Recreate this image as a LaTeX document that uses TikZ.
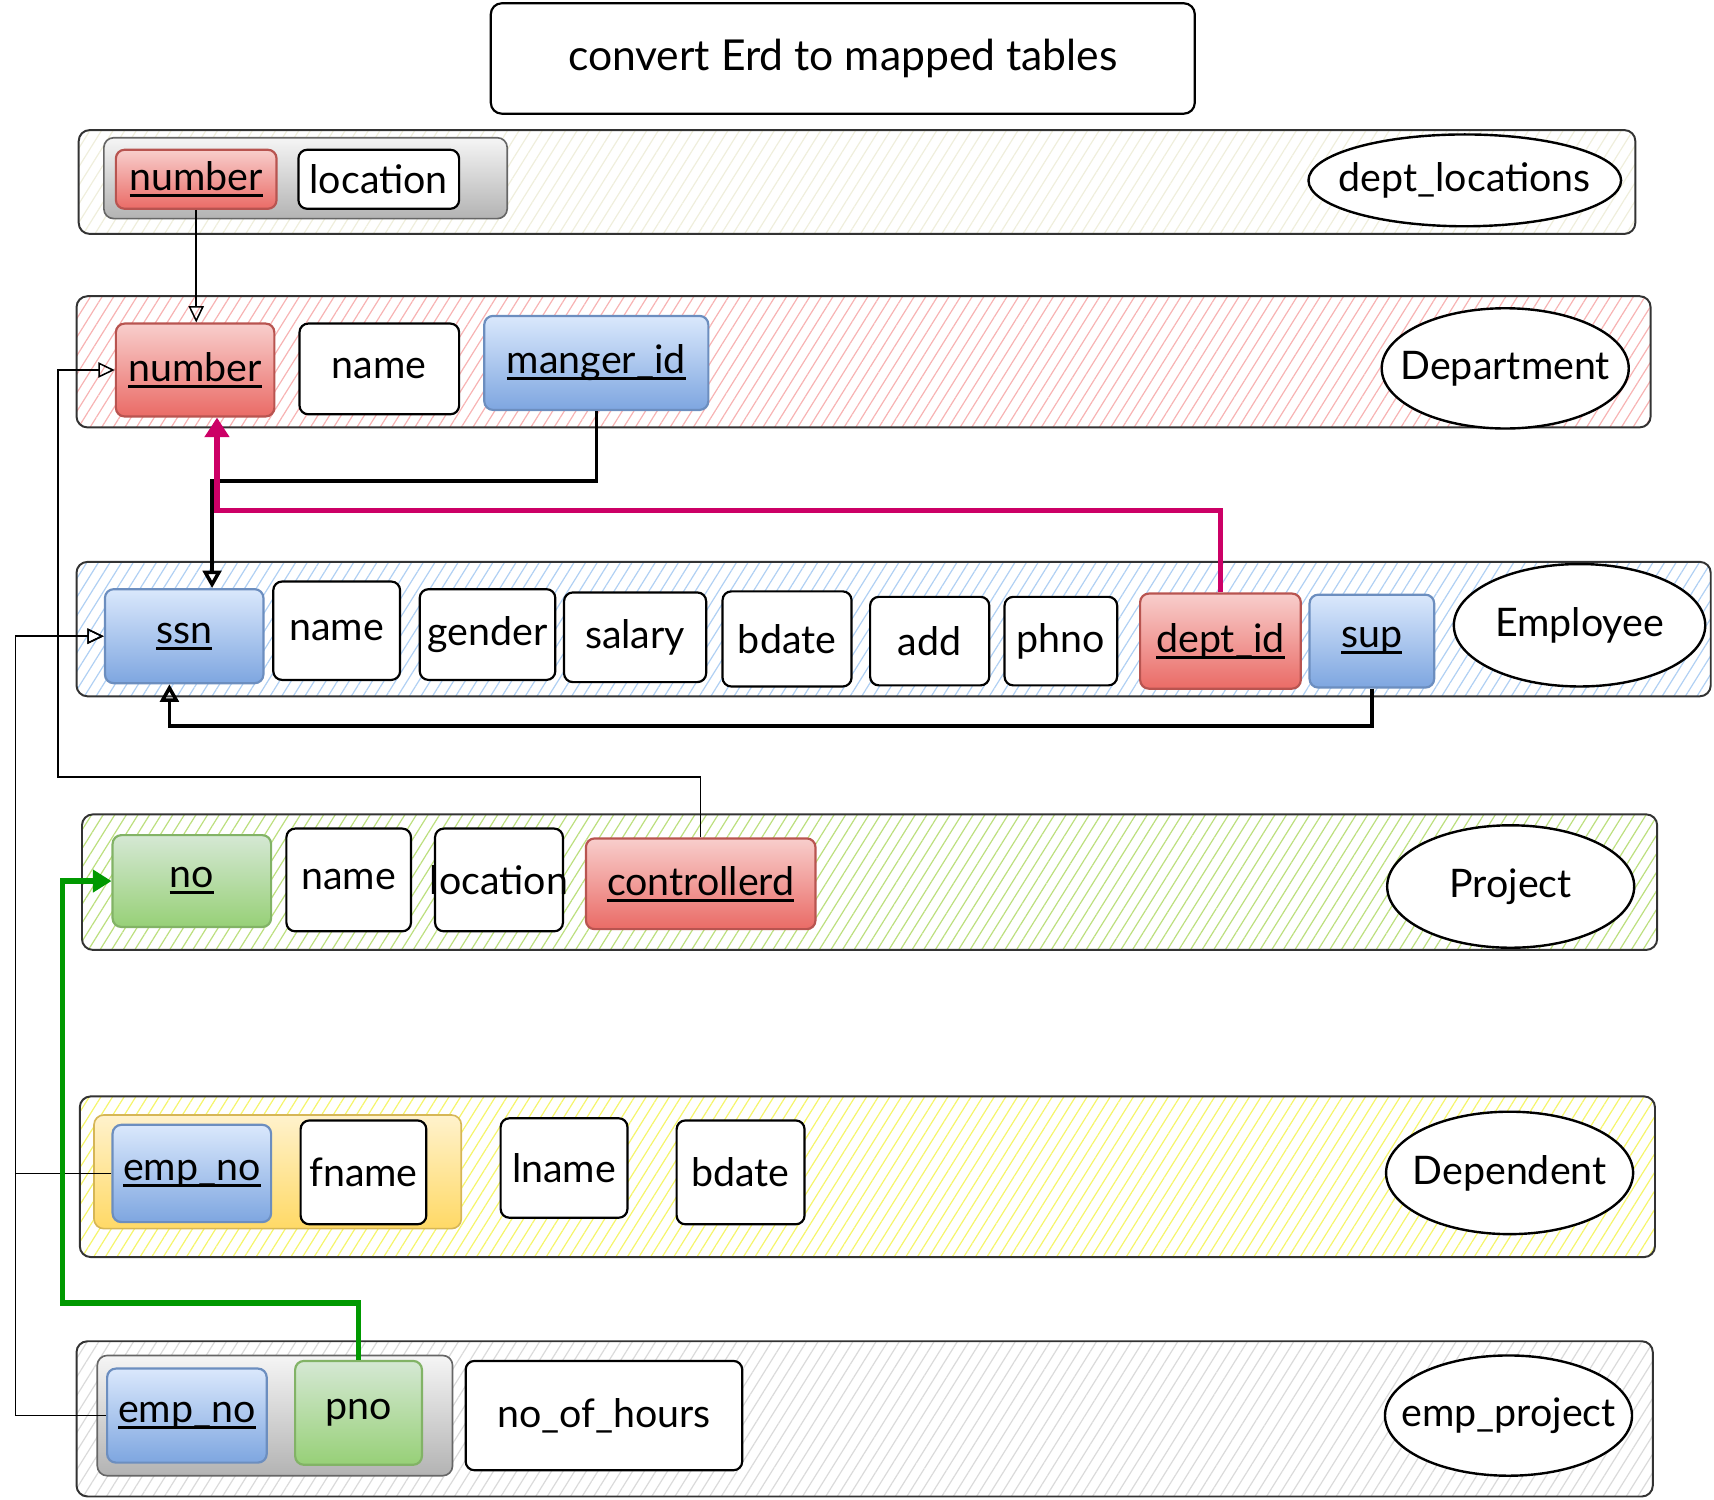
\documentclass[tikz,border=0pt]{standalone}
\usepackage{fontspec}
\setmainfont{Lato}
\usetikzlibrary{arrows.meta,shapes.geometric,patterns.meta}

% key attributes are underlined with a heavy rule just below the baseline
\newcommand{\keyline}[1]{\setbox0\hbox{#1}\leavevmode\rlap{\rule[-6pt]{\wd0}{2.8pt}}\box0}
% entity names do not widen their ellipse
\newcommand{\entname}[1]{\makebox[0pt]{#1}}

\definecolor{ink}{HTML}{333333}
\definecolor{redline}{HTML}{B85450}
\definecolor{redtop}{HTML}{F8CECC}
\definecolor{redbot}{HTML}{EA6B66}
\definecolor{blueline}{HTML}{6C8EBF}
\definecolor{bluetop}{HTML}{DAE8FC}
\definecolor{bluebot}{HTML}{7EA6E0}
\definecolor{greenline}{HTML}{82B366}
\definecolor{greentop}{HTML}{D5E8D4}
\definecolor{greenbot}{HTML}{97D077}
\definecolor{yelline}{HTML}{D6B656}
\definecolor{yeltop}{HTML}{FFF2CC}
\definecolor{yelbot}{HTML}{FFD966}
\definecolor{grayline}{HTML}{666666}
\definecolor{graytop}{HTML}{F5F5F5}
\definecolor{graybot}{HTML}{B3B3B3}
\definecolor{hatchbeige}{HTML}{EFEEDC}
\definecolor{hatchpink}{HTML}{F7B3B3}
\definecolor{hatchblue}{HTML}{B0D0F3}
\definecolor{hatchgreen}{HTML}{BCDF7E}
\definecolor{hatchyellow}{HTML}{F5F56A}
\definecolor{hatchgray}{HTML}{DADADA}
\definecolor{fkpink}{HTML}{CC0066}
\definecolor{fkgreen}{HTML}{009900}

\tikzset{
  labelfont/.style={font=\fontsize{36}{42}\selectfont},
  tablerow/.style={draw=ink, line width=1.8pt, rounded corners=10pt, inner sep=0pt,
    pattern={Lines[angle=58,distance=9pt,line width=1.1pt]}, pattern color=#1},
  keygroup/.style={draw=grayline, line width=1.5pt, rounded corners=9pt, inner sep=0pt,
    top color=graytop, bottom color=graybot},
  yelgroup/.style={draw=yelline, line width=1.5pt, rounded corners=9pt, inner sep=0pt,
    top color=yeltop, bottom color=yelbot},
  attr/.style={draw=black, line width=2pt, rounded corners=8pt, inner sep=0pt,
    fill=white, labelfont},
  redkey/.style={attr, draw=redline, top color=redtop, bottom color=redbot},
  bluekey/.style={attr, draw=blueline, top color=bluetop, bottom color=bluebot},
  greenkey/.style={attr, draw=greenline, top color=greentop, bottom color=greenbot},
  entity/.style={ellipse, draw=black, line width=2.2pt, fill=white, inner sep=0pt, labelfont},
  titlebox/.style={draw=black, line width=2pt, rounded corners=10pt, fill=white,
    inner sep=0pt, font=\fontsize{39}{46}\selectfont},
  thinlink/.style={draw=black, line width=1.4pt,
    -{Triangle[open,length=15pt,width=14pt]}},
  thicklink/.style={draw=black, line width=3.2pt,
    -{Triangle[open,length=16pt,width=17pt]}},
  pinklink/.style={draw=fkpink, line width=5pt,
    -{Triangle[length=18pt,width=22pt]}},
  greenlink/.style={draw=fkgreen, line width=5pt,
    -{Triangle[length=17pt,width=20pt]}},
}

\begin{document}
\begin{tikzpicture}[x=1pt,y=-1pt]
\useasboundingbox (0,0) rectangle (1568,1372);

% heading
\node[titlebox, minimum width=644, minimum height=101] (title) at (771,53.5)
  {convert Erd to mapped tables};

% ---- dept_locations ----
\node[tablerow=hatchbeige, minimum width=1424, minimum height=95] (rowA) at (784,166.5) {};
\node[keygroup, minimum width=369, minimum height=74] (grpA) at (279.5,163) {};
\node[redkey, minimum width=147, minimum height=54] (numberA) at (179.5,164) {\keyline{number}};
\node[attr, minimum width=147, minimum height=54] (locationA) at (346.5,164) {location};
\node[entity, minimum width=286, minimum height=84] (entA) at (1340,165) {\entname{dept\_locations}};

% ---- Department ----
\node[tablerow=hatchpink, minimum width=1440, minimum height=120] (rowB) at (790,331) {};
\node[redkey, minimum width=145, minimum height=85] (numberB) at (178.5,338.5) {\keyline{number}};
\node[attr, minimum width=146, minimum height=83] (nameB) at (347,337.5) {name};
\node[bluekey, minimum width=205, minimum height=86] (manger) at (545.5,332) {\keyline{manger\_id}};
\node[entity, minimum width=226, minimum height=110] (entB) at (1377,337) {\entname{Department}};

% ---- Employee ----
\node[tablerow=hatchblue, minimum width=1495, minimum height=123] (rowC) at (817.5,575.5) {};
\node[bluekey, minimum width=145, minimum height=86] (ssn) at (168.5,582) {\keyline{ssn}};
\node[attr, minimum width=116, minimum height=90] (nameC) at (308,577) {name};
\node[attr, minimum width=124, minimum height=83] (gender) at (446,580.5) {gender};
\node[attr, minimum width=130, minimum height=82] (salary) at (581,583) {salary};
\node[attr, minimum width=118, minimum height=87] (bdateC) at (720,584.5) {bdate};
\node[attr, minimum width=109, minimum height=81] (add) at (850.5,586.5) {add};
\node[attr, minimum width=103, minimum height=81] (phno) at (970.5,586.5) {phno};
\node[redkey, minimum width=147, minimum height=87] (deptid) at (1116.5,586.5) {\keyline{dept\_id}};
\node[bluekey, minimum width=114, minimum height=85] (sup) at (1255,586.5) {\keyline{sup}};
\node[entity, minimum width=230, minimum height=112] (entC) at (1445,572) {\entname{Employee}};

% ---- Project ----
\node[tablerow=hatchgreen, minimum width=1441, minimum height=124] (rowD) at (795.5,807) {};
\node[greenkey, minimum width=145, minimum height=84] (no) at (175.5,806) {\keyline{no}};
\node[attr, minimum width=114, minimum height=94] (nameD) at (319,805) {name};
\node[attr, minimum width=117, minimum height=94] (locationD) at (456.5,805) {\makebox[0pt]{location}};
\node[redkey, minimum width=210, minimum height=83] (controllerd) at (641,808.5) {\keyline{controllerd}};
\node[entity, minimum width=226, minimum height=112] (entD) at (1382,811) {\entname{Project}};

% ---- Dependent ----
\node[tablerow=hatchyellow, minimum width=1441, minimum height=147] (rowE) at (793.5,1076.5) {};
\node[yelgroup, minimum width=336, minimum height=104] (grpE) at (254,1072) {};
\node[bluekey, minimum width=145, minimum height=89] (empnoE) at (175.5,1073.5) {\keyline{emp\_no}};
\node[attr, minimum width=115, minimum height=95] (fname) at (332.5,1072.5) {fname};
\node[attr, minimum width=116, minimum height=91] (lname) at (516,1068.5) {lname};
\node[attr, minimum width=117, minimum height=95] (bdateE) at (677.5,1072.5) {bdate};
\node[entity, minimum width=226, minimum height=112] (entE) at (1381,1073) {\entname{Dependent}};

% ---- emp_project ----
\node[tablerow=hatchgray, minimum width=1442, minimum height=142] (rowF) at (791,1298) {};
\node[keygroup, minimum width=325, minimum height=110] (grpF) at (251.5,1295) {};
\node[bluekey, minimum width=146, minimum height=86] (empnoF) at (171,1295) {\keyline{emp\_no}};
\node[greenkey, minimum width=116, minimum height=95] (pno) at (328,1292.5) {pno};
\node[attr, minimum width=253, minimum height=100] (hours) at (552.5,1295) {no\_of\_hours};
\node[entity, minimum width=226, minimum height=110] (entF) at (1380,1295) {\entname{emp\_project}};

% ---- foreign keys ----
\draw[thinlink] (numberA.south) -- (numberA.south |- numberB.north);
\draw[thinlink] (controllerd.north) |- (53,711) |- (numberB.west);
\draw[thicklink] (manger.south) |- (194,440) -- ([xshift=25.5pt]ssn.north);
\draw[pinklink] (deptid.north) |- (198.5,467) -- ([xshift=20pt]numberB.south);
\draw[thicklink] (sup.south) |- (155,664) -- ([xshift=-13.5pt]ssn.south);
\draw[thinlink] (empnoE.west) -| (14,700) |- (ssn.west);
\draw[thinlink] (empnoF.west) -| (14,700) |- (ssn.west);
\draw[greenlink] (pno.north) |- (57,1192) |- (no.west);
\end{tikzpicture}
\end{document}
